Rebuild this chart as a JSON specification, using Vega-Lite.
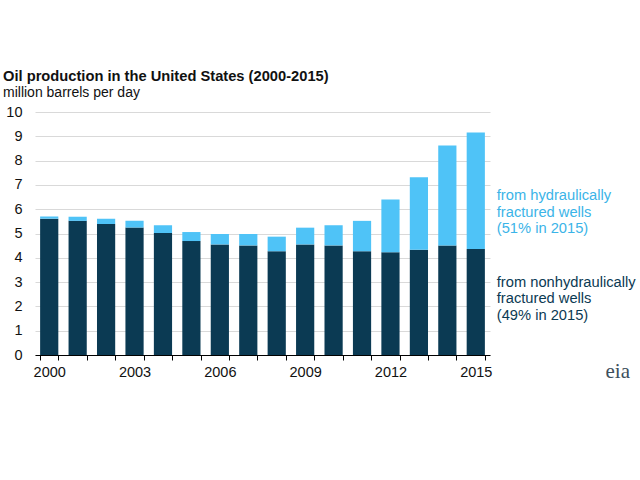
{
  "$schema": "https://vega.github.io/schema/vega-lite/v6.json",
  "autosize": {"type": "none"},
  "width": 455,
  "height": 243,
  "padding": {"left": 35, "top": 112, "right": 150, "bottom": 125},
  "background": "white",
  "config": {
    "view": {"stroke": null},
    "font": "Liberation Sans",
    "text": {"font": "Liberation Sans"}
  },
  "title": {
    "text": "Oil production in the United States (2000-2015)",
    "subtitle": "million barrels per day",
    "anchor": "start",
    "frame": "group",
    "dx": -32,
    "offset": 4,
    "font": "Liberation Sans",
    "fontSize": 14.7,
    "fontWeight": "bold",
    "color": "#111111",
    "subtitleFont": "Liberation Sans",
    "subtitleFontSize": 14,
    "subtitleColor": "#111111",
    "subtitlePadding": 2
  },
  "encoding": {
    "y": {
      "type": "quantitative",
      "scale": {"domain": [0, 10], "nice": false},
      "axis": {
        "title": null,
        "values": [0, 1, 2, 3, 4, 5, 6, 7, 8, 9, 10],
        "labelOverlap": false,
        "ticks": false,
        "domain": false,
        "labelFont": "Liberation Sans",
        "labelFontSize": 14.5,
        "labelColor": "#111111",
        "labelPadding": 13,
        "gridColor": "#d9d9d9",
        "gridWidth": 1
      }
    }
  },
  "layer": [
    {
      "data": {
        "values": [
          {"year": 2000, "type": "non", "order": 1, "value": 5.61},
          {"year": 2000, "type": "hyd", "order": 2, "value": 0.09},
          {"year": 2001, "type": "non", "order": 1, "value": 5.52},
          {"year": 2001, "type": "hyd", "order": 2, "value": 0.17},
          {"year": 2002, "type": "non", "order": 1, "value": 5.39},
          {"year": 2002, "type": "hyd", "order": 2, "value": 0.22},
          {"year": 2003, "type": "non", "order": 1, "value": 5.25},
          {"year": 2003, "type": "hyd", "order": 2, "value": 0.27},
          {"year": 2004, "type": "non", "order": 1, "value": 5.02},
          {"year": 2004, "type": "hyd", "order": 2, "value": 0.32},
          {"year": 2005, "type": "non", "order": 1, "value": 4.69},
          {"year": 2005, "type": "hyd", "order": 2, "value": 0.37},
          {"year": 2006, "type": "non", "order": 1, "value": 4.55},
          {"year": 2006, "type": "hyd", "order": 2, "value": 0.43},
          {"year": 2007, "type": "non", "order": 1, "value": 4.51},
          {"year": 2007, "type": "hyd", "order": 2, "value": 0.47},
          {"year": 2008, "type": "non", "order": 1, "value": 4.27},
          {"year": 2008, "type": "hyd", "order": 2, "value": 0.60},
          {"year": 2009, "type": "non", "order": 1, "value": 4.55},
          {"year": 2009, "type": "hyd", "order": 2, "value": 0.69},
          {"year": 2010, "type": "non", "order": 1, "value": 4.51},
          {"year": 2010, "type": "hyd", "order": 2, "value": 0.83},
          {"year": 2011, "type": "non", "order": 1, "value": 4.27},
          {"year": 2011, "type": "hyd", "order": 2, "value": 1.25},
          {"year": 2012, "type": "non", "order": 1, "value": 4.23},
          {"year": 2012, "type": "hyd", "order": 2, "value": 2.17},
          {"year": 2013, "type": "non", "order": 1, "value": 4.33},
          {"year": 2013, "type": "hyd", "order": 2, "value": 2.98},
          {"year": 2014, "type": "non", "order": 1, "value": 4.51},
          {"year": 2014, "type": "hyd", "order": 2, "value": 4.11},
          {"year": 2015, "type": "non", "order": 1, "value": 4.36},
          {"year": 2015, "type": "hyd", "order": 2, "value": 4.80}
        ]
      },
      "mark": {"type": "bar"},
      "encoding": {
        "x": {
          "field": "year",
          "type": "ordinal",
          "scale": {"paddingInner": 0.36, "paddingOuter": 0.18},
          "axis": {
            "title": null,
            "labelAngle": 0,
            "labelExpr": "(datum.value - 2000) % 3 == 0 ? datum.label : ''",
            "labelFont": "Liberation Sans",
            "labelFontSize": 14.5,
            "labelColor": "#111111",
            "labelPadding": 5,
            "tickBand": "extent",
            "tickSize": 5,
            "tickColor": "#000000",
            "domainColor": "#000000",
            "grid": false
          }
        },
        "y": {
          "field": "value",
          "type": "quantitative",
          "stack": "zero"
        },
        "color": {
          "field": "type",
          "type": "nominal",
          "scale": {"domain": ["non", "hyd"], "range": ["#0b3a53", "#4fc3f7"]},
          "legend": null
        },
        "order": {"field": "order", "type": "quantitative"}
      }
    },
    {
      "data": {"values": [{"label": "hyd", "value": 6.54}]},
      "mark": {"type": "text", "align": "left", "baseline": "middle", "dx": 21, "fontSize": 14.7, "lineHeight": 16.5, "color": "#3bb4e8"},
      "encoding": {
        "x": {"datum": 2015, "type": "ordinal"},
        "y": {"field": "value"},
        "text": {"value": ["from hydraulically", "fractured wells", "(51% in 2015)"]}
      }
    },
    {
      "data": {"values": [{"label": "non", "value": 2.98}]},
      "mark": {"type": "text", "align": "left", "baseline": "middle", "dx": 21, "fontSize": 14.7, "lineHeight": 16.5, "color": "#0b3a53"},
      "encoding": {
        "x": {"datum": 2015, "type": "ordinal"},
        "y": {"field": "value"},
        "text": {"value": ["from nonhydraulically", "fractured wells", "(49% in 2015)"]}
      }
    },
    {
      "data": {"values": [{"label": "eia", "value": 0}]},
      "mark": {"type": "text", "align": "center", "baseline": "alphabetic", "dx": 142, "dy": 23, "fontSize": 21, "font": "Liberation Serif", "color": "#3d4f5c"},
      "encoding": {
        "x": {"datum": 2015, "type": "ordinal"},
        "y": {"field": "value"},
        "text": {"field": "label"}
      }
    }
  ]
}
